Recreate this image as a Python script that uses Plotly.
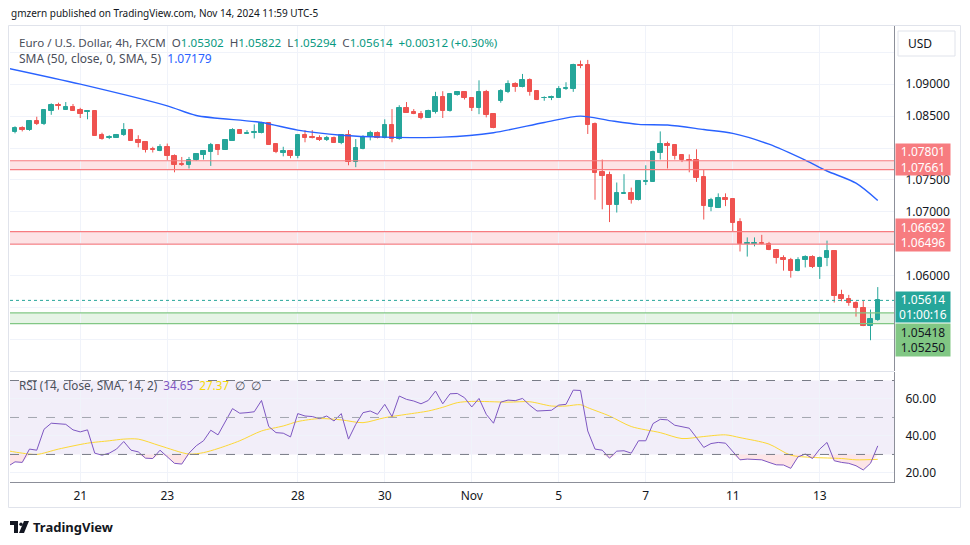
import plotly.graph_objects as go

# ---------------- data ----------------
idx = list(range(-1, 120))
opens = [1.0849, 1.0825, 1.0832, 1.0828, 1.0842, 1.0838, 1.0858, 1.0867, 1.0860, 1.0865,
         1.0859, 1.0856, 1.0858, 1.0820, 1.0816, 1.0816, 1.0820, 1.0828, 1.0813, 1.0809,
         1.0798, 1.0795, 1.0802, 1.0788, 1.0775, 1.0773, 1.0781, 1.0789, 1.0794, 1.0804,
         1.0797, 1.0811, 1.0828, 1.0822, 1.0823, 1.0824, 1.0839, 1.0806, 1.0792, 1.0795,
         1.0787, 1.0820, 1.0817, 1.0816, 1.0812, 1.0816, 1.0808, 1.0820, 1.0778, 1.0798,
         1.0817, 1.0823, 1.0816, 1.0836, 1.0814, 1.0862, 1.0857, 1.0854, 1.0847, 1.0857,
         1.0880, 1.0858, 1.0883, 1.0887, 1.0878, 1.0862, 1.0887, 1.0853, 1.0874, 1.0888,
         1.0900, 1.0896, 1.0906, 1.0889, 1.0878, 1.0879, 1.0879, 1.0893, 1.0892, 1.0930,
         1.0930, 1.0837, 1.0762, 1.0757, 1.0711, 1.0728, 1.0729, 1.0718, 1.0747, 1.0747,
         1.0792, 1.0806, 1.0805, 1.0789, 1.0782, 1.0781, 1.0754, 1.0708, 1.0706, 1.0721,
         1.0720, 1.0684, 1.0650, 1.0649, 1.0651, 1.0650, 1.0641, 1.0628, 1.0625, 1.0607,
         1.0624, 1.0630, 1.0613, 1.0627, 1.0638, 1.0570, 1.0564, 1.0558, 1.0550, 1.0522,
         1.05302]
highs = [1.0850, 1.0834, 1.0834, 1.0843, 1.0849, 1.0861, 1.0870, 1.0871, 1.0872, 1.0869,
         1.0863, 1.0858, 1.0859, 1.0824, 1.0820, 1.0822, 1.0839, 1.0830, 1.0820, 1.0811,
         1.0802, 1.0806, 1.0807, 1.0790, 1.0786, 1.0786, 1.0790, 1.0795, 1.0808, 1.0806,
         1.0812, 1.0831, 1.0829, 1.0828, 1.0837, 1.0841, 1.0840, 1.0807, 1.0802, 1.0797,
         1.0821, 1.0828, 1.0828, 1.0820, 1.0819, 1.0818, 1.0821, 1.0828, 1.0814, 1.0820,
         1.0827, 1.0826, 1.0845, 1.0861, 1.0867, 1.0872, 1.0861, 1.0858, 1.0860, 1.0888,
         1.0889, 1.0886, 1.0888, 1.0889, 1.0879, 1.0906, 1.0891, 1.0853, 1.0892, 1.0906,
         1.0903, 1.0916, 1.0909, 1.0889, 1.0881, 1.0882, 1.0897, 1.0903, 1.0932, 1.0937,
         1.0938, 1.0840, 1.0782, 1.0763, 1.0746, 1.0759, 1.0738, 1.0749, 1.0773, 1.0796,
         1.0826, 1.0810, 1.0806, 1.0790, 1.0790, 1.0798, 1.0767, 1.0722, 1.0729, 1.0729,
         1.0721, 1.0690, 1.0660, 1.0660, 1.0664, 1.0653, 1.0641, 1.0632, 1.0628, 1.0629,
         1.0632, 1.0632, 1.0630, 1.0655, 1.0639, 1.0578, 1.0570, 1.0560, 1.0561, 1.0547,
         1.05822]
lows = [1.0825, 1.0823, 1.0826, 1.0827, 1.0836, 1.0836, 1.0852, 1.0860, 1.0860, 1.0858,
        1.0847, 1.0845, 1.0819, 1.0813, 1.0814, 1.0816, 1.0819, 1.0811, 1.0801, 1.0793,
        1.0793, 1.0795, 1.0781, 1.0762, 1.0772, 1.0768, 1.0780, 1.0782, 1.0772, 1.0789,
        1.0797, 1.0811, 1.0822, 1.0822, 1.0815, 1.0823, 1.0805, 1.0792, 1.0787, 1.0784,
        1.0784, 1.0809, 1.0815, 1.0811, 1.0811, 1.0808, 1.0806, 1.0773, 1.0770, 1.0798,
        1.0812, 1.0815, 1.0815, 1.0809, 1.0813, 1.0855, 1.0853, 1.0845, 1.0847, 1.0854,
        1.0847, 1.0857, 1.0882, 1.0876, 1.0858, 1.0853, 1.0848, 1.0831, 1.0871, 1.0886,
        1.0888, 1.0895, 1.0882, 1.0875, 1.0874, 1.0875, 1.0879, 1.0891, 1.0888, 1.0925,
        1.0822, 1.0719, 1.0704, 1.0684, 1.0699, 1.0728, 1.0713, 1.0718, 1.0742, 1.0747,
        1.0782, 1.0768, 1.0782, 1.0778, 1.0762, 1.0747, 1.0688, 1.0701, 1.0706, 1.0709,
        1.0670, 1.0638, 1.0630, 1.0646, 1.0649, 1.0640, 1.0619, 1.0608, 1.0597, 1.0607,
        1.0613, 1.0612, 1.0595, 1.0615, 1.0558, 1.0560, 1.0553, 1.0536, 1.0521, 1.0499,
        1.05294]
closes = [1.0826, 1.0832, 1.0828, 1.0842, 1.0838, 1.0859, 1.0867, 1.0866, 1.0865, 1.0858,
          1.0854, 1.0858, 1.0819, 1.0814, 1.0817, 1.0821, 1.0828, 1.0811, 1.0808, 1.0797,
          1.0797, 1.0802, 1.0787, 1.0774, 1.0774, 1.0782, 1.0790, 1.0795, 1.0804, 1.0797,
          1.0812, 1.0828, 1.0822, 1.0824, 1.0825, 1.0839, 1.0805, 1.0794, 1.0795, 1.0787,
          1.0820, 1.0816, 1.0815, 1.0812, 1.0816, 1.0808, 1.0820, 1.0778, 1.0800, 1.0818,
          1.0823, 1.0816, 1.0836, 1.0814, 1.0862, 1.0855, 1.0853, 1.0847, 1.0858, 1.0880,
          1.0858, 1.0885, 1.0887, 1.0878, 1.0863, 1.0887, 1.0851, 1.0831, 1.0889, 1.0900,
          1.0896, 1.0906, 1.0888, 1.0876, 1.0879, 1.0880, 1.0892, 1.0894, 1.0930, 1.0928,
          1.0836, 1.0761, 1.0756, 1.0711, 1.0729, 1.0730, 1.0718, 1.0748, 1.0748, 1.0793,
          1.0806, 1.0803, 1.0787, 1.0781, 1.0780, 1.0753, 1.0709, 1.0719, 1.0721, 1.0718,
          1.0682, 1.0650, 1.0651, 1.0651, 1.0649, 1.0640, 1.0627, 1.0624, 1.0607, 1.0625,
          1.0630, 1.0613, 1.0628, 1.0638, 1.0569, 1.0564, 1.0557, 1.0549, 1.0522, 1.0533,
          1.05614]

sma_idx = [-1, 9, 21, 25, 34, 39, 45, 51, 59, 66, 73, 78, 82, 86, 90, 95, 99, 104, 109, 112, 116, 119]
sma_val = [1.0925, 1.0900, 1.0866, 1.0851, 1.0840, 1.0828, 1.0820, 1.0817, 1.0817, 1.0824, 1.0840,
           1.0850, 1.0843, 1.0837, 1.0836, 1.0829, 1.0823, 1.0806, 1.0781, 1.0764, 1.0745, 1.07179]

rsi_idx = [-1, 0, 1, 2, 3, 4, 5, 7, 8, 9, 10, 11, 12, 13, 14, 15, 16, 17, 18, 19, 20, 21, 22, 23, 24,
           25, 26, 27, 28, 30, 31, 32, 33, 34, 35, 36, 37, 38, 39, 40, 41, 42, 43, 44, 45, 46, 47, 48,
           49, 50, 51, 52, 53, 54, 55, 56, 57, 58, 59, 60, 61, 62, 63, 64, 65, 66, 67, 68, 69, 70, 71,
           72, 74, 75, 76, 77, 78, 79, 80, 81, 82, 83, 84, 85, 86, 87, 88, 89, 90, 91, 92, 93, 94, 95,
           96, 97, 98, 99, 100, 101, 102, 103, 104, 105, 106, 107, 108, 109, 110, 111, 112, 113, 114,
           115, 116, 117, 118, 119]
rsi_val = [23.5, 26.0, 25.7, 32.9, 32.3, 43.6, 46.9, 46.3, 43.3, 42.2, 43.3, 30.7, 29.6, 30.7, 32.9,
           37.0, 32.3, 31.4, 28.0, 27.8, 32.3, 28.9, 25.2, 24.8, 30.7, 34.7, 37.4, 43.1, 40.6, 54.8,
           52.3, 52.6, 53.1, 59.2, 45.1, 41.8, 41.5, 39.5, 52.1, 50.8, 50.5, 49.4, 50.8, 48.1, 52.1,
           38.3, 46.3, 52.6, 53.5, 51.7, 57.1, 50.5, 61.6, 59.8, 58.9, 57.4, 59.2, 64.3, 57.4, 62.8,
           63.0, 60.7, 55.7, 60.3, 51.7, 46.9, 58.3, 59.4, 59.1, 60.3, 56.6, 53.5, 53.9, 56.7, 57.1,
           64.8, 64.6, 42.7, 32.9, 32.3, 28.0, 31.8, 32.0, 30.7, 37.4, 37.4, 46.7, 49.0, 48.7, 45.8,
           44.9, 44.2, 39.1, 33.8, 35.9, 36.5, 36.1, 31.6, 27.1, 27.5, 27.5, 27.1, 25.7, 24.4, 24.3,
           22.5, 28.7, 30.2, 27.8, 32.9, 36.5, 26.6, 25.7, 25.2, 23.9, 21.6, 25.2, 34.65]

rsi_ma_idx = [-1, 1, 3, 6, 10, 13, 15, 17, 20, 24, 26, 28, 31, 34, 37, 39, 42, 45, 48, 51, 54, 57,
              59, 61, 63, 68, 71, 74, 76, 78, 79, 82, 85, 89, 92, 95, 98, 100, 104, 107, 110, 114, 116, 119]
rsi_ma_val = [32.0, 30.7, 30.0, 32.9, 36.1, 37.4, 38.3, 38.3, 34.7, 30.2, 31.0, 33.2, 37.4, 42.7, 45.4,
              47.8, 49.4, 48.7, 47.2, 49.9, 51.7, 53.5, 55.5, 58.0, 58.7, 58.3, 58.5, 56.2, 56.2, 56.9,
              55.3, 50.8, 45.1, 41.8, 38.6, 39.7, 40.6, 39.1, 35.6, 29.6, 28.4, 27.8, 27.1, 27.37]

day_ticks = [9, 21, 39, 51, 63, 75, 87, 99, 111]
day_labels = ["21", "23", "28", "30", "Nov", "5", "7", "11", "13"]
price_ticks = [1.095, 1.090, 1.085, 1.080, 1.075, 1.070, 1.065, 1.060, 1.055, 1.050]
# labels hidden behind the price boxes in the original are left blank
price_ticklabels = ["", "1.09000", "1.08500", "", "1.07500", "1.07000", "", "1.06000", "", ""]
rsi_ticks = [20, 40, 60]
rsi_ticklabels = ["20.00", "40.00", "60.00"]

zone_red_1 = (1.07661, 1.07801)
zone_red_2 = (1.06496, 1.06692)
zone_green = (1.05250, 1.05418)
last_price = 1.05614
countdown = "01:00:16"
rsi_levels = (30, 50, 70)

# ---------------- styling ----------------
UP = "#26a69a"
DOWN = "#ef5350"
GRID = "#f0f3fa"
AXISLINE = "#8c8f99"
TXT = "#131722"
FONT = "Noto Sans"

W, H = 970, 545
L_PX, R_PX, T_PX, B_PX = 10, 894, 26, 482


def PX(x):
    return (x - L_PX) / (R_PX - L_PX)


def PY(y):
    return (B_PX - y) / (B_PX - T_PX)


fig = go.Figure()

# wicks
for col, cond in ((UP, lambda o, c: c >= o), (DOWN, lambda o, c: c < o)):
    wx, wy = [], []
    for i, o, h, l, c in zip(idx, opens, highs, lows, closes):
        if cond(o, c):
            wx += [i, i, None]
            wy += [l, h, None]
    fig.add_trace(go.Scatter(x=wx, y=wy, mode="lines", line=dict(color=col, width=1),
                             hoverinfo="skip", showlegend=False, yaxis="y"))

# bodies
body_base = [min(o, c) for o, c in zip(opens, closes)]
body_h = [abs(c - o) for o, c in zip(opens, closes)]
body_col = [UP if c >= o else DOWN for o, c in zip(opens, closes)]
fig.add_trace(go.Bar(x=idx, y=body_h, base=body_base, width=0.62,
                     marker=dict(color=body_col, line=dict(color=body_col, width=1)),
                     hoverinfo="skip", showlegend=False, yaxis="y"))

# SMA 50
fig.add_trace(go.Scatter(x=sma_idx, y=sma_val, mode="lines",
                         line=dict(color="#2962ff", width=1.4, shape="spline", smoothing=0.8),
                         hoverinfo="skip", showlegend=False, yaxis="y"))

# RSI oversold fill
fig.add_trace(go.Scatter(x=rsi_idx, y=[rsi_levels[0]] * len(rsi_idx), mode="lines",
                         line=dict(width=0, color="rgba(0,0,0,0)"), hoverinfo="skip",
                         showlegend=False, yaxis="y2"))
fig.add_trace(go.Scatter(x=rsi_idx, y=[min(v, rsi_levels[0]) for v in rsi_val], mode="lines",
                         line=dict(width=0, color="rgba(0,0,0,0)"), fill="tonexty",
                         fillcolor="rgba(242,54,69,0.13)", hoverinfo="skip",
                         showlegend=False, yaxis="y2"))
# RSI MA
fig.add_trace(go.Scatter(x=rsi_ma_idx, y=rsi_ma_val, mode="lines",
                         line=dict(color="#fdd835", width=1, shape="spline", smoothing=0.8),
                         hoverinfo="skip", showlegend=False, yaxis="y2"))
# RSI
fig.add_trace(go.Scatter(x=rsi_idx, y=rsi_val, mode="lines",
                         line=dict(color="#7e57c2", width=1),
                         hoverinfo="skip", showlegend=False, yaxis="y2"))

shapes = []
# RSI band + level lines
shapes.append(dict(type="rect", xref="paper", x0=0, x1=1, yref="y2", y0=rsi_levels[0], y1=rsi_levels[2],
                   fillcolor="rgba(126,87,194,0.10)", line=dict(width=0), layer="below"))
for lv in rsi_levels:
    shapes.append(dict(type="line", xref="paper", x0=0, x1=1, yref="y2", y0=lv, y1=lv,
                       line=dict(color="#787b86" if lv != 50 else "#a3a6af", width=1, dash="dash")))

# zones
for (lo, hi), fill, edge in ((zone_red_1, "rgba(242,54,69,0.14)", "#f77c80"),
                             (zone_red_2, "rgba(242,54,69,0.14)", "#f77c80"),
                             (zone_green, "rgba(76,175,80,0.14)", "#81c784")):
    shapes.append(dict(type="rect", xref="paper", x0=0, x1=1, yref="y", y0=lo, y1=hi,
                       fillcolor=fill, line=dict(width=0), layer="below"))
    for v in (lo, hi):
        shapes.append(dict(type="line", xref="paper", x0=0, x1=1, yref="y", y0=v, y1=v,
                           line=dict(color=edge, width=1.2)))

# last price dotted line
shapes.append(dict(type="line", xref="paper", x0=0, x1=1, yref="y", y0=last_price, y1=last_price,
                   line=dict(color=UP, width=1, dash="dot")))

# pane separator and frame
shapes.append(dict(type="line", xref="paper", yref="paper", x0=0, x1=1, y0=PY(371.5), y1=PY(371.5),
                   line=dict(color="#e0e3eb", width=1)))
shapes.append(dict(type="rect", xref="paper", yref="paper", x0=PX(8.5), x1=PX(960.5),
                   y0=PY(507.5), y1=PY(25.5), line=dict(color="#e0e3eb", width=1),
                   fillcolor="rgba(0,0,0,0)"))
# USD box
shapes.append(dict(type="rect", xref="paper", yref="paper", x0=PX(898), x1=PX(955), y0=PY(56), y1=PY(31),
                   line=dict(color="#e0e3eb", width=1), fillcolor="white", layer="above"))

# TradingView logo approximation
shapes.append(dict(type="path", xref="paper", yref="paper",
                   path=f"M {PX(10)} {PY(521)} L {PX(18)} {PY(521)} L {PX(18)} {PY(533)} L {PX(14)} {PY(533)} "
                        f"L {PX(14)} {PY(525)} L {PX(10)} {PY(525)} Z",
                   fillcolor="#131722", line=dict(width=0)))
shapes.append(dict(type="circle", xref="paper", yref="paper", x0=PX(19.3), x1=PX(22.7), y0=PY(526), y1=PY(522.6),
                   fillcolor="#131722", line=dict(width=0)))
shapes.append(dict(type="path", xref="paper", yref="paper",
                   path=f"M {PX(24)} {PY(521)} L {PX(29)} {PY(521)} L {PX(24)} {PY(533)} L {PX(19)} {PY(533)} Z",
                   fillcolor="#131722", line=dict(width=0)))

ann = []


def text(x, y, s, size=12, color=TXT, anchor="left"):
    ann.append(dict(x=PX(x), y=PY(y), xref="paper", yref="paper", text=s, showarrow=False,
                    xanchor=anchor, yanchor="middle", font=dict(family=FONT, size=size, color=color)))


G = "#089981"
text(9, 13, "gmzern published on TradingView.com, Nov 14, 2024 11:59 UTC-5", 10, TXT)
text(17, 42,
     f"Euro / U.S. Dollar, 4h, FXCM&nbsp;&nbsp;O<span style='color:{G}'>{opens[-1]:.5f}</span>&nbsp;&nbsp;"
     f"H<span style='color:{G}'>{highs[-1]:.5f}</span>&nbsp;&nbsp;L<span style='color:{G}'>{lows[-1]:.5f}</span>&nbsp;&nbsp;"
     f"C<span style='color:{G}'>{closes[-1]:.5f}</span>&nbsp;&nbsp;"
     f"<span style='color:{G}'>+{closes[-1]-opens[-1]:.5f} (+{(closes[-1]-opens[-1])/opens[-1]*100:.2f}%)</span>",
     11.6, "#4a4e5a")
text(17, 59, f"SMA (50, close, 0, SMA, 5)&nbsp;&nbsp;<span style='color:#2962ff'>{sma_val[-1]:.5f}</span>", 12, "#4a4e5a")
text(17, 385, f"RSI (14, close, SMA, 14, 2)&nbsp;&nbsp;<span style='color:#7e57c2'>{rsi_val[-1]:.2f}</span>&nbsp;&nbsp;"
     f"<span style='color:#f5d90a'>{rsi_ma_val[-1]:.2f}</span>&nbsp;&nbsp;∅&nbsp;&nbsp;∅", 11.7, "#4a4e5a")
text(906, 43.5, "USD", 12, TXT)
text(31, 527, "<b>TradingView</b>", 13, TXT)


def plabel(price, shift, s, bg, fg, h):
    ann.append(dict(x=PX(922.5), y=price, xref="paper", yref="y", yshift=shift, text=s,
                    showarrow=False, xanchor="center", yanchor="middle", bgcolor=bg, width=54, height=h,
                    borderpad=0, font=dict(family=FONT, size=12, color=fg)))


plabel(zone_red_1[1], 0.8, f"{zone_red_1[1]:.5f}<br>{zone_red_1[0]:.5f}", "#f77c80", "white", 31)
plabel(zone_red_2[1], -3.8, f"{zone_red_2[1]:.5f}<br>{zone_red_2[0]:.5f}", "#f77c80", "white", 32)
plabel(last_price, -7.0, f"{last_price:.5f}<br>{countdown}", UP, "white", 30)
plabel(zone_green[1], -27.3, f"{zone_green[1]:.5f}<br>{zone_green[0]:.5f}", "#81c784", TXT, 32)

x_lo = (L_PX - 15) / 7.25
x_hi = (R_PX - 15) / 7.25
main_dom = [PY(371), 1]
rsi_dom = [0, PY(372)]

fig.update_layout(
    width=W, height=H, autosize=False,
    margin=dict(l=L_PX, r=W - R_PX, t=T_PX, b=H - B_PX),
    paper_bgcolor="white", plot_bgcolor="white",
    font=dict(family=FONT, size=12, color=TXT),
    shapes=shapes, annotations=ann, bargap=0,
    xaxis=dict(range=[x_lo, x_hi], tickvals=day_ticks, ticktext=day_labels, showgrid=True,
               gridcolor=GRID, zeroline=False, anchor="y2", showline=True, linecolor=AXISLINE,
               ticks="outside", ticklen=3, tickcolor="rgba(0,0,0,0)",
               tickfont=dict(family=FONT, size=12, color=TXT)),
    yaxis=dict(domain=main_dom, range=[1.04508, 1.09911], side="right", tickvals=price_ticks,
               ticktext=price_ticklabels, showgrid=True, gridcolor=GRID, zeroline=False, showline=True,
               linecolor=AXISLINE, anchor="x", ticks="outside", ticklen=8, tickcolor="rgba(0,0,0,0)",
               tickfont=dict(family=FONT, size=12, color=TXT)),
    yaxis2=dict(domain=rsi_dom, range=[15.1, 74.6], side="right", tickvals=rsi_ticks,
                ticktext=rsi_ticklabels, showgrid=True, gridcolor=GRID, zeroline=False, showline=True,
                linecolor=AXISLINE, anchor="x", ticks="outside", ticklen=8, tickcolor="rgba(0,0,0,0)",
                tickfont=dict(family=FONT, size=12, color=TXT)),
)

fig.write_html("out.html", config={"displayModeBar": False},
               post_script="document.body.style.margin='0px';document.body.style.overflow='hidden';")
